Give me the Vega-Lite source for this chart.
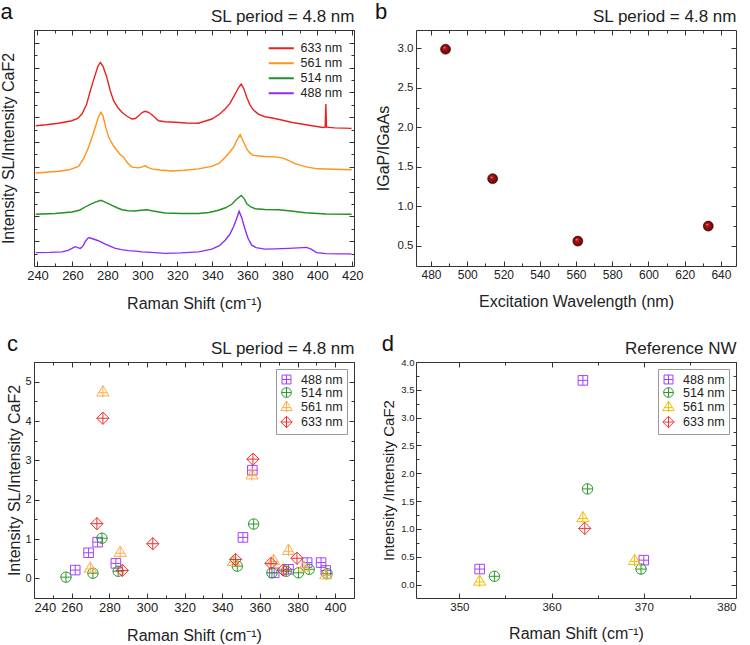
{
  "$schema": "https://vega.github.io/schema/vega-lite/v6.json",
  "background": "white",
  "padding": 0,
  "columns": 2,
  "spacing": {"row": 20, "column": 10},
  "resolve": {"scale": {"color": "independent", "shape": "independent"}, "legend": {"color": "independent", "shape": "independent"}},
  "config": {
    "font": "Liberation Sans",
    "view": {"stroke": "#333", "strokeWidth": 1},
    "axis": {"domain": false, "grid": false, "tickColor": "#333", "tickWidth": 1, "labelColor": "#222", "titleColor": "#222", "titleFontWeight": "normal", "labelFont": "Liberation Sans", "titleFont": "Liberation Sans", "labelPadding": 4},
    "title": {"font": "Liberation Sans", "fontWeight": "normal", "fontSize": 22, "anchor": "start", "color": "#111", "offset": -16},
    "legend": {"labelFont": "Liberation Sans", "labelFontSize": 12, "labelColor": "#222"}
  },
  "concat": [
    {
      "title": {"text": "a"},
      "width": 320, "height": 236,
      "data": {"values": [
        {"shift": 239, "intensity": 5.66, "laser": "633 nm"},{"shift": 245, "intensity": 5.70, "laser": "633 nm"},{"shift": 252, "intensity": 5.76, "laser": "633 nm"},{"shift": 259.7, "intensity": 5.86, "laser": "633 nm"},{"shift": 263, "intensity": 5.95, "laser": "633 nm"},{"shift": 265.4, "intensity": 6.13, "laser": "633 nm"},{"shift": 268, "intensity": 6.5, "laser": "633 nm"},{"shift": 270.2, "intensity": 7.07, "laser": "633 nm"},{"shift": 272.5, "intensity": 7.6, "laser": "633 nm"},{"shift": 274.5, "intensity": 8.05, "laser": "633 nm"},{"shift": 275.9, "intensity": 8.21, "laser": "633 nm"},{"shift": 277.5, "intensity": 8.05, "laser": "633 nm"},{"shift": 279.7, "intensity": 7.6, "laser": "633 nm"},{"shift": 281.5, "intensity": 7.1, "laser": "633 nm"},{"shift": 283.5, "intensity": 6.67, "laser": "633 nm"},{"shift": 286, "intensity": 6.38, "laser": "633 nm"},{"shift": 288.3, "intensity": 6.2, "laser": "633 nm"},{"shift": 291, "intensity": 6.05, "laser": "633 nm"},{"shift": 294, "intensity": 5.93, "laser": "633 nm"},{"shift": 296, "intensity": 5.95, "laser": "633 nm"},{"shift": 297.8, "intensity": 6.06, "laser": "633 nm"},{"shift": 300, "intensity": 6.2, "laser": "633 nm"},{"shift": 301.6, "intensity": 6.24, "laser": "633 nm"},{"shift": 303.5, "intensity": 6.2, "laser": "633 nm"},{"shift": 305.4, "intensity": 6.1, "laser": "633 nm"},{"shift": 307, "intensity": 6.0, "laser": "633 nm"},{"shift": 309.2, "intensity": 5.86, "laser": "633 nm"},{"shift": 313, "intensity": 5.82, "laser": "633 nm"},{"shift": 318.8, "intensity": 5.8, "laser": "633 nm"},{"shift": 325, "intensity": 5.77, "laser": "633 nm"},{"shift": 332, "intensity": 5.76, "laser": "633 nm"},{"shift": 339.7, "intensity": 5.93, "laser": "633 nm"},{"shift": 344, "intensity": 6.12, "laser": "633 nm"},{"shift": 347.3, "intensity": 6.33, "laser": "633 nm"},{"shift": 350, "intensity": 6.55, "laser": "633 nm"},{"shift": 353, "intensity": 6.93, "laser": "633 nm"},{"shift": 355, "intensity": 7.2, "laser": "633 nm"},{"shift": 356.5, "intensity": 7.34, "laser": "633 nm"},{"shift": 358, "intensity": 7.15, "laser": "633 nm"},{"shift": 359.7, "intensity": 6.8, "laser": "633 nm"},{"shift": 361.5, "intensity": 6.5, "laser": "633 nm"},{"shift": 363.5, "intensity": 6.29, "laser": "633 nm"},{"shift": 366.5, "intensity": 6.12, "laser": "633 nm"},{"shift": 370.1, "intensity": 6.02, "laser": "633 nm"},{"shift": 375, "intensity": 5.96, "laser": "633 nm"},{"shift": 379.6, "intensity": 5.89, "laser": "633 nm"},{"shift": 385, "intensity": 5.8, "laser": "633 nm"},{"shift": 391, "intensity": 5.73, "laser": "633 nm"},{"shift": 397, "intensity": 5.66, "laser": "633 nm"},{"shift": 403.4, "intensity": 5.59, "laser": "633 nm"},{"shift": 404.5, "intensity": 5.6, "laser": "633 nm"},{"shift": 404.9, "intensity": 6.53, "laser": "633 nm"},{"shift": 405.3, "intensity": 5.6, "laser": "633 nm"},{"shift": 410, "intensity": 5.57, "laser": "633 nm"},{"shift": 415, "intensity": 5.56, "laser": "633 nm"},{"shift": 419.6, "intensity": 5.55, "laser": "633 nm"},
        {"shift": 239, "intensity": 3.75, "laser": "561 nm"},{"shift": 245, "intensity": 3.78, "laser": "561 nm"},{"shift": 252.1, "intensity": 3.82, "laser": "561 nm"},{"shift": 258, "intensity": 3.88, "laser": "561 nm"},{"shift": 263.5, "intensity": 4.02, "laser": "561 nm"},{"shift": 266.5, "intensity": 4.35, "laser": "561 nm"},{"shift": 269.2, "intensity": 4.79, "laser": "561 nm"},{"shift": 271, "intensity": 5.15, "laser": "561 nm"},{"shift": 273, "intensity": 5.59, "laser": "561 nm"},{"shift": 274.8, "intensity": 6.0, "laser": "561 nm"},{"shift": 276.3, "intensity": 6.2, "laser": "561 nm"},{"shift": 277.5, "intensity": 6.05, "laser": "561 nm"},{"shift": 279, "intensity": 5.6, "laser": "561 nm"},{"shift": 280.7, "intensity": 5.19, "laser": "561 nm"},{"shift": 283, "intensity": 4.9, "laser": "561 nm"},{"shift": 285.4, "intensity": 4.66, "laser": "561 nm"},{"shift": 287, "intensity": 4.52, "laser": "561 nm"},{"shift": 289.2, "intensity": 4.39, "laser": "561 nm"},{"shift": 291.5, "intensity": 4.15, "laser": "561 nm"},{"shift": 294, "intensity": 3.99, "laser": "561 nm"},{"shift": 297.8, "intensity": 3.96, "laser": "561 nm"},{"shift": 300, "intensity": 4.0, "laser": "561 nm"},{"shift": 301.6, "intensity": 4.05, "laser": "561 nm"},{"shift": 303, "intensity": 3.98, "laser": "561 nm"},{"shift": 305.4, "intensity": 3.92, "laser": "561 nm"},{"shift": 310, "intensity": 3.87, "laser": "561 nm"},{"shift": 316.9, "intensity": 3.83, "laser": "561 nm"},{"shift": 324, "intensity": 3.86, "laser": "561 nm"},{"shift": 332, "intensity": 3.92, "laser": "561 nm"},{"shift": 339.7, "intensity": 4.02, "laser": "561 nm"},{"shift": 344, "intensity": 4.15, "laser": "561 nm"},{"shift": 347.3, "intensity": 4.39, "laser": "561 nm"},{"shift": 350, "intensity": 4.6, "laser": "561 nm"},{"shift": 352.1, "intensity": 4.79, "laser": "561 nm"},{"shift": 354.2, "intensity": 5.1, "laser": "561 nm"},{"shift": 355.9, "intensity": 5.3, "laser": "561 nm"},{"shift": 357.5, "intensity": 5.05, "laser": "561 nm"},{"shift": 359.7, "intensity": 4.72, "laser": "561 nm"},{"shift": 361.5, "intensity": 4.55, "laser": "561 nm"},{"shift": 363.5, "intensity": 4.46, "laser": "561 nm"},{"shift": 370.1, "intensity": 4.42, "laser": "561 nm"},{"shift": 376.8, "intensity": 4.39, "laser": "561 nm"},{"shift": 380, "intensity": 4.36, "laser": "561 nm"},{"shift": 383.5, "intensity": 4.26, "laser": "561 nm"},{"shift": 387, "intensity": 4.14, "laser": "561 nm"},{"shift": 391, "intensity": 4.05, "laser": "561 nm"},{"shift": 395, "intensity": 3.98, "laser": "561 nm"},{"shift": 400.6, "intensity": 3.92, "laser": "561 nm"},{"shift": 410, "intensity": 3.9, "laser": "561 nm"},{"shift": 419.6, "intensity": 3.88, "laser": "561 nm"},
        {"shift": 239, "intensity": 2.09, "laser": "514 nm"},{"shift": 250, "intensity": 2.12, "laser": "514 nm"},{"shift": 259.7, "intensity": 2.18, "laser": "514 nm"},{"shift": 264, "intensity": 2.25, "laser": "514 nm"},{"shift": 267.3, "intensity": 2.38, "laser": "514 nm"},{"shift": 270.5, "intensity": 2.5, "laser": "514 nm"},{"shift": 273, "intensity": 2.58, "laser": "514 nm"},{"shift": 276.3, "intensity": 2.65, "laser": "514 nm"},{"shift": 279, "intensity": 2.57, "laser": "514 nm"},{"shift": 282.6, "intensity": 2.45, "laser": "514 nm"},{"shift": 285.5, "intensity": 2.35, "laser": "514 nm"},{"shift": 288.3, "intensity": 2.27, "laser": "514 nm"},{"shift": 292, "intensity": 2.23, "laser": "514 nm"},{"shift": 295.9, "intensity": 2.22, "laser": "514 nm"},{"shift": 299, "intensity": 2.25, "laser": "514 nm"},{"shift": 302.6, "intensity": 2.27, "laser": "514 nm"},{"shift": 306, "intensity": 2.22, "laser": "514 nm"},{"shift": 313, "intensity": 2.14, "laser": "514 nm"},{"shift": 322, "intensity": 2.12, "laser": "514 nm"},{"shift": 332, "intensity": 2.12, "laser": "514 nm"},{"shift": 338, "intensity": 2.16, "laser": "514 nm"},{"shift": 343.5, "intensity": 2.25, "laser": "514 nm"},{"shift": 347.5, "intensity": 2.35, "laser": "514 nm"},{"shift": 351.1, "intensity": 2.49, "laser": "514 nm"},{"shift": 354, "intensity": 2.7, "laser": "514 nm"},{"shift": 356.5, "intensity": 2.85, "laser": "514 nm"},{"shift": 358.2, "intensity": 2.72, "laser": "514 nm"},{"shift": 359.7, "intensity": 2.51, "laser": "514 nm"},{"shift": 362, "intensity": 2.38, "laser": "514 nm"},{"shift": 364.5, "intensity": 2.31, "laser": "514 nm"},{"shift": 370, "intensity": 2.28, "laser": "514 nm"},{"shift": 377.8, "intensity": 2.27, "laser": "514 nm"},{"shift": 385, "intensity": 2.22, "laser": "514 nm"},{"shift": 393, "intensity": 2.15, "laser": "514 nm"},{"shift": 405, "intensity": 2.1, "laser": "514 nm"},{"shift": 419.6, "intensity": 2.09, "laser": "514 nm"},
        {"shift": 239, "intensity": 0.54, "laser": "488 nm"},{"shift": 247, "intensity": 0.55, "laser": "488 nm"},{"shift": 254, "intensity": 0.57, "laser": "488 nm"},{"shift": 257.5, "intensity": 0.63, "laser": "488 nm"},{"shift": 259.7, "intensity": 0.71, "laser": "488 nm"},{"shift": 261.6, "intensity": 0.78, "laser": "488 nm"},{"shift": 263, "intensity": 0.74, "laser": "488 nm"},{"shift": 264.5, "intensity": 0.71, "laser": "488 nm"},{"shift": 266, "intensity": 0.8, "laser": "488 nm"},{"shift": 267.3, "intensity": 0.98, "laser": "488 nm"},{"shift": 268.5, "intensity": 1.1, "laser": "488 nm"},{"shift": 269.6, "intensity": 1.15, "laser": "488 nm"},{"shift": 271.5, "intensity": 1.1, "laser": "488 nm"},{"shift": 274, "intensity": 1.04, "laser": "488 nm"},{"shift": 276.5, "intensity": 0.96, "laser": "488 nm"},{"shift": 278.8, "intensity": 0.88, "laser": "488 nm"},{"shift": 281.5, "intensity": 0.8, "laser": "488 nm"},{"shift": 284.5, "intensity": 0.71, "laser": "488 nm"},{"shift": 288, "intensity": 0.66, "laser": "488 nm"},{"shift": 292.1, "intensity": 0.62, "laser": "488 nm"},{"shift": 296, "intensity": 0.6, "laser": "488 nm"},{"shift": 299.7, "intensity": 0.57, "laser": "488 nm"},{"shift": 305, "intensity": 0.55, "laser": "488 nm"},{"shift": 313, "intensity": 0.51, "laser": "488 nm"},{"shift": 322, "intensity": 0.53, "laser": "488 nm"},{"shift": 332, "intensity": 0.57, "laser": "488 nm"},{"shift": 339.7, "intensity": 0.68, "laser": "488 nm"},{"shift": 344, "intensity": 0.82, "laser": "488 nm"},{"shift": 347.3, "intensity": 1.04, "laser": "488 nm"},{"shift": 350, "intensity": 1.28, "laser": "488 nm"},{"shift": 352.1, "intensity": 1.58, "laser": "488 nm"},{"shift": 353.8, "intensity": 1.9, "laser": "488 nm"},{"shift": 355.3, "intensity": 2.21, "laser": "488 nm"},{"shift": 356.8, "intensity": 1.95, "laser": "488 nm"},{"shift": 358.8, "intensity": 1.45, "laser": "488 nm"},{"shift": 360.5, "intensity": 1.1, "laser": "488 nm"},{"shift": 362.5, "intensity": 0.84, "laser": "488 nm"},{"shift": 365, "intensity": 0.74, "laser": "488 nm"},{"shift": 370.1, "intensity": 0.68, "laser": "488 nm"},{"shift": 376, "intensity": 0.69, "laser": "488 nm"},{"shift": 383.5, "intensity": 0.71, "laser": "488 nm"},{"shift": 389, "intensity": 0.73, "laser": "488 nm"},{"shift": 393.9, "intensity": 0.75, "laser": "488 nm"},{"shift": 396.5, "intensity": 0.68, "laser": "488 nm"},{"shift": 399.6, "intensity": 0.54, "laser": "488 nm"},{"shift": 405, "intensity": 0.5, "laser": "488 nm"},{"shift": 412, "intensity": 0.49, "laser": "488 nm"},{"shift": 419.6, "intensity": 0.49, "laser": "488 nm"}
      ]},
      "layer": [
        {
          "mark": {"type": "line", "strokeWidth": 1.4, "clip": true},
          "encoding": {
            "x": {"field": "shift", "type": "quantitative", "scale": {"domain": [238, 421], "nice": false, "zero": false},
              "axis": {"orient": "bottom", "values": [240,250,260,270,280,290,300,310,320,330,340,350,360,370,380,390,400,410,420], "labelExpr": "datum.value % 20 === 0 ? datum.label : ''", "tickSize": {"condition": {"test": "datum.value % 20 === 0", "value": -5}, "value": -3}, "labelFontSize": 13, "labelPadding": 8, "title": "Raman Shift (cm⁻¹)", "titleFontSize": 16, "titlePadding": 13}},
            "y": {"field": "intensity", "type": "quantitative", "scale": {"domain": [0, 9.52], "nice": false, "zero": false},
              "axis": {"orient": "left", "values": [0.5,1,1.5,2,2.5,3,3.5,4,4.5,5,5.5,6,6.5,7,7.5,8,8.5,9,9.5], "labels": false, "tickSize": {"condition": {"test": "datum.value % 1 === 0", "value": -5}, "value": -3}, "title": "Intensity SL/Intensity CaF2", "titleFontSize": 16, "titlePadding": 17}},
            "color": {"field": "laser", "type": "nominal", "sort": ["633 nm", "561 nm", "514 nm", "488 nm"],
              "scale": {"domain": ["633 nm", "561 nm", "514 nm", "488 nm"], "range": ["#e8231f", "#ff9418", "#229022", "#8f2cf5"]},
              "legend": {"orient": "none", "legendX": 241, "legendY": 12, "title": null, "symbolType": "M-3,0H3", "symbolStrokeWidth": 2, "symbolSize": 70, "rowPadding": 2, "labelFontSize": 12.5, "labelOffset": 13}}
          }
        },
        {
          "mark": {"type": "point", "opacity": 0},
          "encoding": {
            "x": {"field": "shift", "type": "quantitative", "scale": {"domain": [238, 421], "nice": false, "zero": false},
              "axis": {"orient": "top", "values": [240,250,260,270,280,290,300,310,320,330,340,350,360,370,380,390,400,410,420], "labels": false, "tickSize": {"condition": {"test": "datum.value % 20 === 0", "value": -5}, "value": -3}, "title": "SL period = 4.8 nm", "titleFontSize": 17, "titleAnchor": "end", "titlePadding": 4}},
            "y": {"field": "intensity", "type": "quantitative", "scale": {"domain": [0, 9.52], "nice": false, "zero": false},
              "axis": {"orient": "right", "values": [0.5,1,1.5,2,2.5,3,3.5,4,4.5,5,5.5,6,6.5,7,7.5,8,8.5,9,9.5], "labels": false, "tickSize": {"condition": {"test": "datum.value % 1 === 0", "value": -5}, "value": -3}, "title": null}}
          }
        }
      ],
      "resolve": {"axis": {"x": "independent", "y": "independent"}}
    },
    {
      "title": {"text": "b"},
      "width": 320, "height": 236,
      "data": {"values": [
        {"wavelength": 488, "ratio": 2.99},
        {"wavelength": 514, "ratio": 1.35},
        {"wavelength": 561, "ratio": 0.56},
        {"wavelength": 633, "ratio": 0.75}
      ]},
      "layer": [
        {
          "mark": {"type": "point", "shape": "circle", "size": 100, "opacity": 1, "strokeWidth": 0.6, "stroke": "#4a0000",
            "fill": {"gradient": "radial", "x1": 0.38, "y1": 0.32, "r1": 0, "x2": 0.5, "y2": 0.5, "r2": 0.55, "stops": [{"offset": 0, "color": "#f3c9c9"}, {"offset": 0.22, "color": "#b31a1a"}, {"offset": 1, "color": "#5c0000"}]}},
          "encoding": {
            "x": {"field": "wavelength", "type": "quantitative", "scale": {"domain": [471.7, 648.3], "nice": false, "zero": false},
              "axis": {"orient": "bottom", "values": [480,490,500,510,520,530,540,550,560,570,580,590,600,610,620,630,640], "labelExpr": "datum.value % 20 === 0 ? datum.label : ''", "tickSize": {"condition": {"test": "datum.value % 20 === 0", "value": -5}, "value": -3}, "labelFontSize": 12, "labelPadding": 8, "title": "Excitation Wavelength (nm)", "titleFontSize": 16, "titlePadding": 13}},
            "y": {"field": "ratio", "type": "quantitative", "scale": {"domain": [0.245, 3.233], "nice": false, "zero": false},
              "axis": {"orient": "left", "values": [0.5,0.75,1,1.25,1.5,1.75,2,2.25,2.5,2.75,3], "labelExpr": "datum.value % 0.5 === 0 ? format(datum.value, '.1f') : ''", "tickSize": {"condition": {"test": "datum.value % 0.5 === 0", "value": -5}, "value": -3}, "labelFontSize": 11.5, "labelPadding": 8, "title": "IGaP/IGaAs", "titleFontSize": 16, "titlePadding": 6}}
          }
        },
        {
          "mark": {"type": "point", "opacity": 0},
          "encoding": {
            "x": {"field": "wavelength", "type": "quantitative", "scale": {"domain": [471.7, 648.3], "nice": false, "zero": false},
              "axis": {"orient": "top", "values": [480,490,500,510,520,530,540,550,560,570,580,590,600,610,620,630,640], "labels": false, "tickSize": {"condition": {"test": "datum.value % 20 === 0", "value": -5}, "value": -3}, "title": "SL period = 4.8 nm", "titleFontSize": 17, "titleAnchor": "end", "titlePadding": 4}},
            "y": {"field": "ratio", "type": "quantitative", "scale": {"domain": [0.245, 3.233], "nice": false, "zero": false},
              "axis": {"orient": "right", "values": [0.5,0.75,1,1.25,1.5,1.75,2,2.25,2.5,2.75,3], "labels": false, "tickSize": {"condition": {"test": "datum.value % 0.5 === 0", "value": -5}, "value": -3}, "title": null}}
          }
        }
      ],
      "resolve": {"axis": {"x": "independent", "y": "independent"}}
    },
    {
      "title": {"text": "c"},
      "width": 320, "height": 236,
      "data": {"values": [
        {"shift": 261.9, "ratio": 0.21, "laserC": "488 nm"},{"shift": 269.0, "ratio": 0.65, "laserC": "488 nm"},{"shift": 273.8, "ratio": 0.92, "laserC": "488 nm"},{"shift": 283.5, "ratio": 0.38, "laserC": "488 nm"},{"shift": 351.0, "ratio": 1.04, "laserC": "488 nm"},{"shift": 356.0, "ratio": 2.75, "laserC": "488 nm"},{"shift": 367.6, "ratio": 0.14, "laserC": "488 nm"},{"shift": 375.2, "ratio": 0.23, "laserC": "488 nm"},{"shift": 385.1, "ratio": 0.40, "laserC": "488 nm"},{"shift": 392.5, "ratio": 0.40, "laserC": "488 nm"},{"shift": 395.0, "ratio": 0.20, "laserC": "488 nm"},
        {"shift": 257.0, "ratio": 0.03, "laserC": "514 nm"},{"shift": 271.3, "ratio": 0.13, "laserC": "514 nm"},{"shift": 276.1, "ratio": 1.02, "laserC": "514 nm"},{"shift": 284.7, "ratio": 0.18, "laserC": "514 nm"},{"shift": 348.0, "ratio": 0.31, "laserC": "514 nm"},{"shift": 356.7, "ratio": 1.38, "laserC": "514 nm"},{"shift": 366.4, "ratio": 0.14, "laserC": "514 nm"},{"shift": 374.0, "ratio": 0.18, "laserC": "514 nm"},{"shift": 380.5, "ratio": 0.14, "laserC": "514 nm"},{"shift": 386.2, "ratio": 0.23, "laserC": "514 nm"},{"shift": 395.7, "ratio": 0.12, "laserC": "514 nm"},
        {"shift": 269.9, "ratio": 0.27, "laserC": "561 nm"},{"shift": 276.6, "ratio": 4.75, "laserC": "561 nm"},{"shift": 285.8, "ratio": 0.67, "laserC": "561 nm"},{"shift": 346.0, "ratio": 0.44, "laserC": "561 nm"},{"shift": 355.8, "ratio": 2.64, "laserC": "561 nm"},{"shift": 367.3, "ratio": 0.46, "laserC": "561 nm"},{"shift": 375.2, "ratio": 0.72, "laserC": "561 nm"},{"shift": 383.4, "ratio": 0.30, "laserC": "561 nm"},{"shift": 395.0, "ratio": 0.10, "laserC": "561 nm"},
        {"shift": 273.4, "ratio": 1.39, "laserC": "633 nm"},{"shift": 276.6, "ratio": 4.07, "laserC": "633 nm"},{"shift": 286.9, "ratio": 0.20, "laserC": "633 nm"},{"shift": 303.1, "ratio": 0.88, "laserC": "633 nm"},{"shift": 347.1, "ratio": 0.48, "laserC": "633 nm"},{"shift": 356.3, "ratio": 3.03, "laserC": "633 nm"},{"shift": 365.9, "ratio": 0.38, "laserC": "633 nm"},{"shift": 372.4, "ratio": 0.21, "laserC": "633 nm"},{"shift": 379.7, "ratio": 0.51, "laserC": "633 nm"}
      ]},
      "layer": [
        {
          "mark": {"type": "point", "filled": false, "size": 150, "strokeWidth": 1, "opacity": 1},
          "encoding": {
            "x": {"field": "shift", "type": "quantitative", "scale": {"domain": [240, 410], "nice": false, "zero": false},
              "axis": {"orient": "bottom", "values": [240,250,260,270,280,290,300,310,320,330,340,350,360,370,380,390,400], "labelExpr": "datum.value % 20 === 0 ? datum.label : ''", "tickSize": {"condition": {"test": "datum.value % 20 === 0", "value": -5}, "value": -3}, "labelFontSize": 13, "labelPadding": 8, "title": "Raman Shift (cm⁻¹)", "titleFontSize": 16, "titlePadding": 13}},
            "y": {"field": "ratio", "type": "quantitative", "scale": {"domain": [-0.5, 5.5], "nice": false, "zero": false},
              "axis": {"orient": "left", "values": [-0.5,0,0.5,1,1.5,2,2.5,3,3.5,4,4.5,5,5.5], "labelExpr": "datum.value % 1 === 0 ? format(datum.value, 'd') : ''", "tickSize": {"condition": {"test": "datum.value % 1 === 0", "value": -5}, "value": -3}, "labelFontSize": 11, "labelPadding": 8, "title": "Intensity SL/Intensity CaF2", "titleFontSize": 16, "titlePadding": 2}},
            "color": {"field": "laserC", "type": "nominal",
              "scale": {"domain": ["488 nm", "514 nm", "561 nm", "633 nm"], "range": ["#a040ff", "#2a9a2a", "#ffac4a", "#ee2f2f"]},
              "legend": {"orient": "top-right", "title": null, "offset": 7, "padding": 4, "strokeColor": "#999", "fillColor": "white", "rowPadding": -1.5, "symbolSize": 130, "symbolStrokeWidth": 1, "labelFontSize": 12.5, "labelOffset": 8}},
            "shape": {"field": "laserC", "type": "nominal",
              "scale": {"domain": ["488 nm", "514 nm", "561 nm", "633 nm"], "range": ["M-0.78,-0.78H0.78V0.78H-0.78Z M0,-0.78V0.78 M-0.78,0H0.78", "M-0.85,0A0.85,0.85 0 1,0 0.85,0A0.85,0.85 0 1,0 -0.85,0Z M0,-0.85V0.85 M-0.85,0H0.85", "M0,-0.95L1,0.72H-1Z M0,-0.95V1 M-0.75,0.2H0.75", "M0,-1L1,0L0,1L-1,0Z M0,-1V1 M-1,0H1"]},
              "legend": {"orient": "top-right", "title": null}}
          }
        },
        {
          "mark": {"type": "point", "opacity": 0},
          "encoding": {
            "x": {"field": "shift", "type": "quantitative", "scale": {"domain": [240, 410], "nice": false, "zero": false},
              "axis": {"orient": "top", "values": [240,250,260,270,280,290,300,310,320,330,340,350,360,370,380,390,400], "labels": false, "tickSize": {"condition": {"test": "datum.value % 20 === 0", "value": -5}, "value": -3}, "title": "SL period = 4.8 nm", "titleFontSize": 17, "titleAnchor": "end", "titlePadding": 4}},
            "y": {"field": "ratio", "type": "quantitative", "scale": {"domain": [-0.5, 5.5], "nice": false, "zero": false},
              "axis": {"orient": "right", "values": [-0.5,0,0.5,1,1.5,2,2.5,3,3.5,4,4.5,5,5.5], "labels": false, "tickSize": {"condition": {"test": "datum.value % 1 === 0", "value": -5}, "value": -3}, "title": null}}
          }
        }
      ],
      "resolve": {"axis": {"x": "independent", "y": "independent"}}
    },
    {
      "title": {"text": "d"},
      "width": 320, "height": 236,
      "data": {"values": [
        {"shift": 363.4, "ratio": 3.67, "laserD": "488 nm"},{"shift": 352.2, "ratio": 0.28, "laserD": "488 nm"},{"shift": 370.0, "ratio": 0.44, "laserD": "488 nm"},
        {"shift": 363.9, "ratio": 1.72, "laserD": "514 nm"},{"shift": 353.8, "ratio": 0.15, "laserD": "514 nm"},{"shift": 369.7, "ratio": 0.28, "laserD": "514 nm"},
        {"shift": 363.4, "ratio": 1.21, "laserD": "561 nm"},{"shift": 352.2, "ratio": 0.07, "laserD": "561 nm"},{"shift": 369.0, "ratio": 0.44, "laserD": "561 nm"},
        {"shift": 363.6, "ratio": 1.01, "laserD": "633 nm"}
      ]},
      "layer": [
        {
          "mark": {"type": "point", "filled": false, "size": 150, "strokeWidth": 1, "opacity": 1},
          "encoding": {
            "x": {"field": "shift", "type": "quantitative", "scale": {"domain": [345.3, 380], "nice": false, "zero": false},
              "axis": {"orient": "bottom", "values": [350,355,360,365,370,375,380], "labelExpr": "datum.value % 10 === 0 ? datum.label : ''", "tickSize": {"condition": {"test": "datum.value % 10 === 0", "value": -5}, "value": -3}, "labelFontSize": 11.5, "labelPadding": 8, "title": "Raman Shift (cm⁻¹)", "titleFontSize": 16, "titlePadding": 13}},
            "y": {"field": "ratio", "type": "quantitative", "scale": {"domain": [-0.24, 4.0], "nice": false, "zero": false},
              "axis": {"orient": "left", "values": [0,0.25,0.5,0.75,1,1.25,1.5,1.75,2,2.25,2.5,2.75,3,3.25,3.5,3.75,4], "labelExpr": "datum.value % 0.5 === 0 ? format(datum.value, '.1f') : ''", "tickSize": {"condition": {"test": "datum.value % 0.5 === 0", "value": -5}, "value": -3}, "labelFontSize": 9.5, "labelPadding": 7, "title": "Intensity /Intensity CaF2", "titleFontSize": 15, "titlePadding": 4}},
            "color": {"field": "laserD", "type": "nominal",
              "scale": {"domain": ["488 nm", "514 nm", "561 nm", "633 nm"], "range": ["#a040ff", "#2a9a2a", "#f5be00", "#ee3a3a"]},
              "legend": {"orient": "top-right", "title": null, "offset": 7, "padding": 4, "strokeColor": "#999", "fillColor": "white", "rowPadding": -1.5, "symbolSize": 130, "symbolStrokeWidth": 1, "labelFontSize": 12.5, "labelOffset": 8}},
            "shape": {"field": "laserD", "type": "nominal",
              "scale": {"domain": ["488 nm", "514 nm", "561 nm", "633 nm"], "range": ["M-0.78,-0.78H0.78V0.78H-0.78Z M0,-0.78V0.78 M-0.78,0H0.78", "M-0.85,0A0.85,0.85 0 1,0 0.85,0A0.85,0.85 0 1,0 -0.85,0Z M0,-0.85V0.85 M-0.85,0H0.85", "M0,-0.95L1,0.72H-1Z M0,-0.95V1 M-0.75,0.2H0.75", "M0,-1L1,0L0,1L-1,0Z M0,-1V1 M-1,0H1"]},
              "legend": {"orient": "top-right", "title": null}}
          }
        },
        {
          "mark": {"type": "point", "opacity": 0},
          "encoding": {
            "x": {"field": "shift", "type": "quantitative", "scale": {"domain": [345.3, 380], "nice": false, "zero": false},
              "axis": {"orient": "top", "values": [350,355,360,365,370,375,380], "labels": false, "tickSize": {"condition": {"test": "datum.value % 10 === 0", "value": -5}, "value": -3}, "title": "Reference NW", "titleFontSize": 17, "titleAnchor": "end", "titlePadding": 4}},
            "y": {"field": "ratio", "type": "quantitative", "scale": {"domain": [-0.24, 4.0], "nice": false, "zero": false},
              "axis": {"orient": "right", "values": [0,0.25,0.5,0.75,1,1.25,1.5,1.75,2,2.25,2.5,2.75,3,3.25,3.5,3.75,4], "labels": false, "tickSize": {"condition": {"test": "datum.value % 0.5 === 0", "value": -5}, "value": -3}, "title": null}}
          }
        }
      ],
      "resolve": {"axis": {"x": "independent", "y": "independent"}}
    }
  ]
}
